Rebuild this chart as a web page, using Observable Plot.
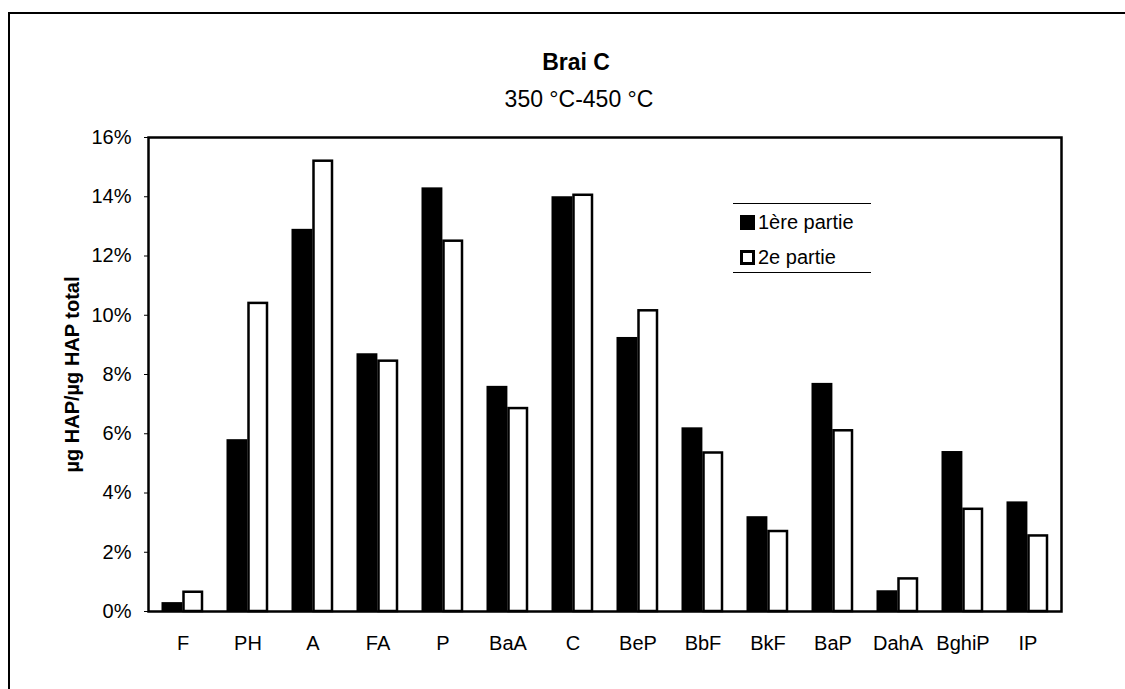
<!DOCTYPE html>
<html>
<head>
<meta charset="utf-8">
<script src="https://cdn.jsdelivr.net/npm/d3@7"></script>
<script src="https://cdn.jsdelivr.net/npm/@observablehq/plot@0.6"></script>
<style>
  body { margin: 0; background: #fff; font-family: "Liberation Sans", Arial, sans-serif; }
  #wrap { position: relative; width: 1125px; height: 689px; overflow: hidden; background: #fff; }
  #chart { position: absolute; left: 0; top: 0; }
  #border { position: absolute; left: 8px; top: 12px; width: 1300px; height: 900px;
            border-left: 2px solid #000; border-top: 2px solid #000; pointer-events: none; }
  .ttl { position: absolute; white-space: nowrap; transform: translate(-50%, -50%); color: #000; }
  #title { left: 576px; top: 62px; font-size: 23px; font-weight: bold; }
  #subtitle { left: 579px; top: 99px; font-size: 23px; }
  #legend { position: absolute; left: 733px; top: 203px; width: 138px; height: 68px;
            border-top: 1px solid #000; border-bottom: 1px solid #000; }
  .li { position: absolute; left: 7px; display: flex; align-items: center; font-size: 20px; }
  .sw { width: 15px; height: 15px; box-sizing: border-box; margin-right: 3px; }
  svg [aria-label="y-axis label"] text, svg [aria-label="y-axis label"] { font-weight: bold; }
</style>
</head>
<body>
<div id="wrap">
  <div id="chart"></div>
  <div id="border"></div>
  <div id="title" class="ttl">Brai C</div>
  <div id="subtitle" class="ttl">350 °C-450 °C</div>
  <div id="legend"></div>
</div>
<script>
const categories = ["F", "PH", "A", "FA", "P", "BaA", "C", "BeP", "BbF", "BkF", "BaP", "DahA", "BghiP", "IP"];
const partie1 = [0.3, 5.8, 12.9, 8.7, 14.3, 7.6, 14.0, 9.25, 6.2, 3.2, 7.7, 0.7, 5.4, 3.7];
const partie2 = [0.65, 10.4, 15.2, 8.45, 12.5, 6.85, 14.05, 10.15, 5.35, 2.7, 6.1, 1.1, 3.45, 2.55];
const seriesNames = ["1ère partie", "2e partie"];
const yTicks = [0, 2, 4, 6, 8, 10, 12, 14, 16];
const yLabel = "µg HAP/µg HAP total";

const d1 = categories.map((c, i) => ({cat: c, v: partie1[i]}));
const d2 = categories.map((c, i) => ({cat: c, v: partie2[i]}));

const chart = Plot.plot({
  width: 1125,
  height: 689,
  marginLeft: 148,
  marginRight: 64,
  marginTop: 137,
  marginBottom: 78,
  style: {fontFamily: "'Liberation Sans', Arial, sans-serif", fontSize: "20px", color: "#000", background: "transparent"},
  x: {type: "band", domain: categories, padding: 0},
  y: {domain: [0, 16]},
  marks: [
    Plot.barY(d1, {x: "cat", y: "v", fill: "#000", insetLeft: 11.5, insetRight: 32.6}),
    Plot.barY(d2, {x: "cat", y: "v", fill: "#fff", stroke: "#000", strokeWidth: 2.5, insetLeft: 33.5, insetRight: 13}),
    Plot.axisY({ticks: yTicks, tickFormat: d => d + "%", tickSize: 4, tickPadding: 13, fontSize: 20,
                label: yLabel, labelAnchor: "center", labelOffset: 84, labelArrow: "none"}),
    Plot.axisX({tickSize: 0, tickPadding: 24, fontSize: 20, label: null}),
    Plot.frame({stroke: "#000", strokeWidth: 2.5})
  ]
});
document.getElementById("chart").appendChild(chart);

// legend
const leg = document.getElementById("legend");
seriesNames.forEach((name, i) => {
  const item = document.createElement("div");
  item.className = "li";
  item.style.top = (i === 0 ? 7 : 42) + "px";
  const sw = document.createElement("div");
  sw.className = "sw";
  sw.style.background = i === 0 ? "#000" : "#fff";
  sw.style.border = i === 0 ? "none" : "3px solid #000";
  const tx = document.createElement("span");
  tx.textContent = name;
  item.appendChild(sw);
  item.appendChild(tx);
  leg.appendChild(item);
});
</script>
</body>
</html>
